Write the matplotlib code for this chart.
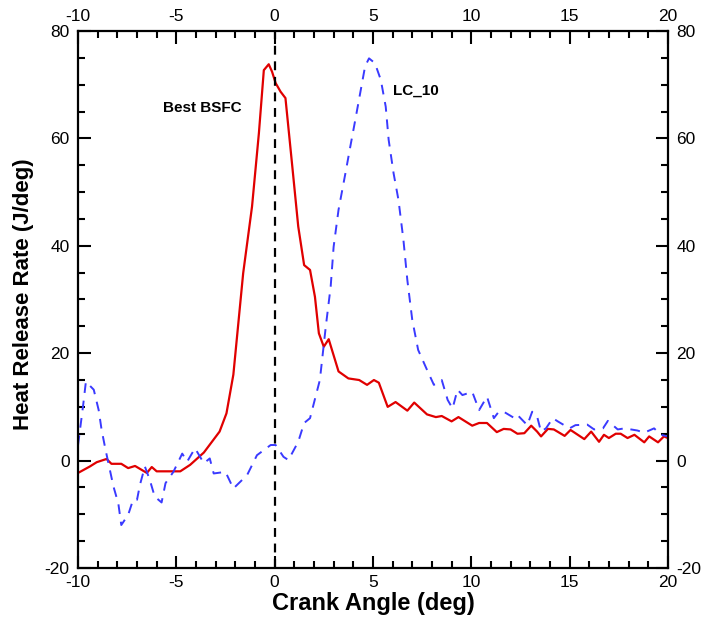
import matplotlib
matplotlib.use("Agg")
import matplotlib.pyplot as plt
from matplotlib.ticker import MultipleLocator

plt.rcParams['font.family'] = ['Liberation Sans', 'DejaVu Sans']
plt.rcParams['axes.unicode_minus'] = False

# Best BSFC heat release rate (crank angle deg, J/deg)
bsfc_ca = [-10, -9.4, -9.05, -8.55, -8.3, -7.8, -7.45, -7.1, -6.5, -6.25, -6.0, -4.8,
           -4.3, -3.6, -2.8, -2.45, -2.1, -1.6, -1.15, -0.8, -0.55, -0.3, -0.13, 0.05,
           0.3, 0.55, 0.9, 1.2, 1.5, 1.8, 2.05, 2.25, 2.5, 2.75, 3.25, 3.75, 4.3, 4.7,
           5.05, 5.3, 5.75, 6.15, 6.75, 7.1, 7.75, 8.2, 8.5, 9.0, 9.35, 10.05, 10.4,
           10.8, 11.3, 11.65, 12.0, 12.35, 12.7, 13.05, 13.35, 13.55, 13.9, 14.2,
           14.75, 15.05, 15.75, 16.1, 16.5, 16.75, 17.0, 17.35, 17.6, 17.95, 18.3,
           18.8, 19.05, 19.5, 19.8, 20.0]
bsfc_hrr = [-2.3, -1.1, -0.3, 0.3, -0.6, -0.6, -1.4, -1.0, -2.3, -1.2, -2.0, -2.0,
            -0.8, 1.5, 5.4, 8.8, 16.0, 34.9, 47.3, 61.0, 72.7, 73.8, 72.4, 70.3,
            68.7, 67.5, 54.7, 43.6, 36.4, 35.5, 30.5, 23.7, 21.2, 22.6, 16.6, 15.3,
            15.0, 14.1, 15.0, 14.5, 10.0, 10.9, 9.3, 10.8, 8.6, 8.1, 8.3, 7.3, 8.1,
            6.5, 7.0, 7.0, 5.3, 5.9, 5.8, 5.0, 5.1, 6.5, 5.4, 4.5, 5.9, 5.8, 4.6,
            5.7, 4.0, 5.4, 3.5, 4.8, 4.2, 5.0, 5.0, 4.2, 4.8, 3.4, 4.5, 3.4, 4.5, 4.2]

# LC_10 heat release rate
lc_ca = [-10, -9.75, -9.6, -9.2, -8.95, -8.8, -8.6, -8.2, -7.95, -7.8, -7.45, -7.2,
         -7.0, -6.85, -6.6, -6.35, -6.1, -5.75, -5.55, -5.15, -4.7, -4.45, -4.05,
         -3.6, -3.3, -3.1, -2.5, -2.1, -1.4, -0.9, -0.2, 0.05, 0.45, 0.7, 1.2, 1.5,
         1.8, 2.3, 2.6, 2.85, 3.0, 3.25, 3.6, 3.85, 4.1, 4.35, 4.6, 4.8, 5.1, 5.4,
         5.65, 5.8, 6.05, 6.3, 6.55, 6.75, 7.0, 7.3, 7.75, 8.1, 8.5, 8.8, 9.05, 9.3,
         9.55, 10.05, 10.4, 10.8, 11.15, 11.4, 11.65, 12.2, 12.35, 12.85, 13.1,
         13.35, 13.55, 13.8, 14.15, 14.4, 15.0, 15.3, 15.9, 16.25, 16.7, 16.95,
         17.45, 17.8, 18.45, 18.8, 19.3, 19.65, 20.0]
lc_hrr = [2.9, 10.0, 14.7, 13.2, 9.4, 5.7, 2.0, -4.8, -8.0, -12.0, -10.1, -7.3,
          -7.3, -4.5, -1.1, -3.6, -6.7, -7.8, -4.2, -2.1, 1.3, -0.2, 2.3, -0.5, 0.4,
          -2.4, -2.1, -5.2, -2.7, 1.0, 2.9, 2.9, 0.7, 0.1, 3.5, 7.0, 7.9, 15.0, 24.9,
          32.4, 39.8, 46.7, 53.5, 58.5, 63.4, 68.4, 73.4, 74.9, 74.0, 70.9, 65.9,
          59.7, 53.5, 48.5, 41.1, 33.6, 26.2, 20.6, 16.9, 14.1, 15.0, 11.3, 9.7,
          13.2, 12.2, 12.8, 9.4, 11.9, 7.9, 9.1, 9.1, 7.9, 8.5, 6.6, 9.1, 8.2, 5.4,
          6.0, 7.9, 7.3, 6.0, 6.6, 6.7, 5.8, 6.0, 7.4, 5.8, 6.0, 5.6, 5.2, 6.0, 4.8, 4.5]

fig = plt.figure(figsize=(7.03, 6.19), dpi=100)
ax = fig.add_axes([0.111, 0.0824, 0.839, 0.8676])

ax.plot(bsfc_ca, bsfc_hrr, color='#e00000', lw=1.6)
ax.plot(lc_ca, lc_hrr, color='#3a3aff', lw=1.4, dashes=(5, 4))
ax.plot([0, 0], [-20, 80], color='black', lw=1.6, dashes=(4, 3))

ax.text(-5.7, 65.7, 'Best BSFC', fontsize=11, fontweight='bold', va='center')
ax.text(6.0, 68.8, 'LC_10', fontsize=11, fontweight='bold', va='center')

ax.set_xlim(-10, 20)
ax.set_ylim(-20, 80)
ax.xaxis.set_major_locator(MultipleLocator(5))
ax.xaxis.set_minor_locator(MultipleLocator(1))
ax.yaxis.set_major_locator(MultipleLocator(20))
ax.yaxis.set_minor_locator(MultipleLocator(5))
ax.tick_params(which='both', direction='in', top=True, right=True,
               labeltop=True, labelright=True, labelsize=12.5, width=1.5, pad=6)
ax.tick_params(axis='x', which='major', pad=5)
ax.tick_params(which='major', length=9)
ax.tick_params(which='minor', length=5)
for s in ax.spines.values():
    s.set_linewidth(1.6)

ax.set_xlabel('Crank Angle (deg)', fontsize=17, fontweight='bold', va='center')
ax.set_ylabel('Heat Release Rate (J/deg)', fontsize=16, fontweight='bold', va='center')
ax.xaxis.set_label_coords(0.5, -0.066)
ax.yaxis.set_label_coords(-0.092, 0.51)

fig.savefig('out.png', dpi=100)
